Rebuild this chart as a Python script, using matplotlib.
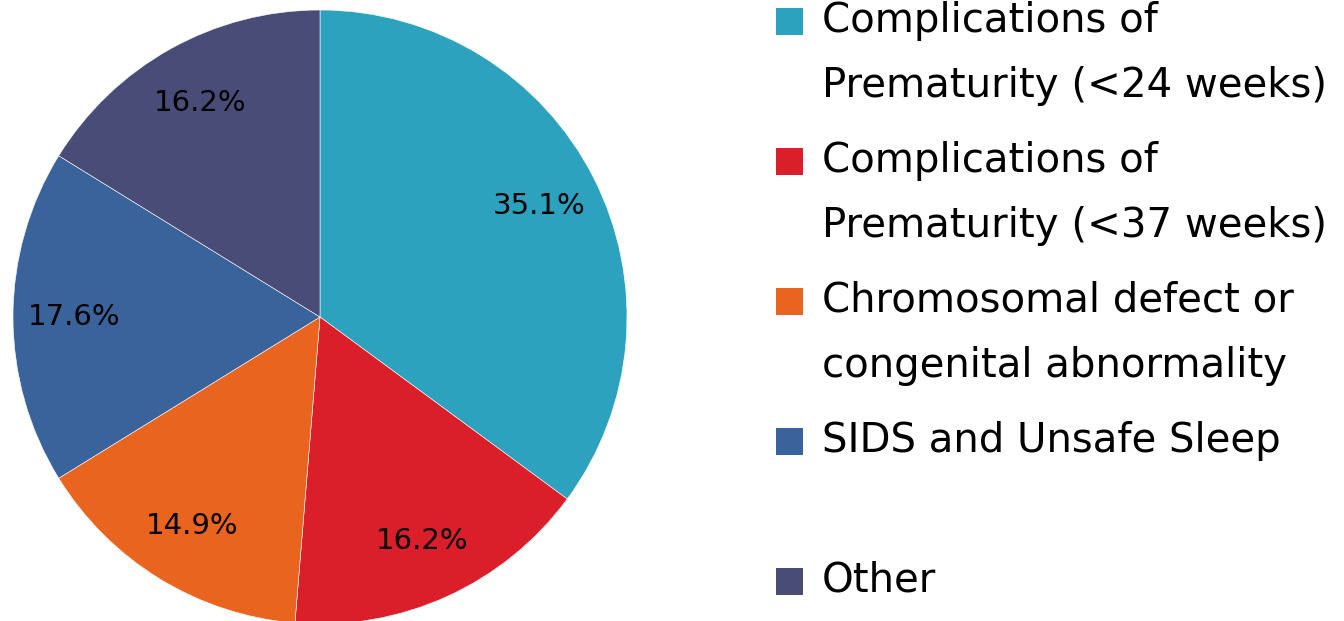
import matplotlib
matplotlib.use("Agg")
import matplotlib.pyplot as plt
from matplotlib.patches import Rectangle

categories = [
    "Complications of\nPrematurity (<24 weeks)",
    "Complications of\nPrematurity (<37 weeks)",
    "Chromosomal defect or\ncongenital abnormality",
    "SIDS and Unsafe Sleep",
    "Other",
]
values = [35.1, 16.2, 14.9, 17.6, 16.2]
colors = ["#2DA2BF", "#DA1F2B", "#E9641F", "#3A639C", "#494C77"]

W, H = 1344, 621
fig = plt.figure(figsize=(W / 100, H / 100), dpi=100)
plt.rcParams['font.family'] = ['DejaVu Sans']

cx, cy, R = 320, 317, 307
ax = fig.add_axes([(cx - R) / W, (H - cy - R) / H, 2 * R / W, 2 * R / H])
wedges, texts, autotexts = ax.pie(
    values, colors=colors, startangle=90, counterclock=False,
    autopct=lambda p: f"{p:.1f}%", pctdistance=0.80,
    wedgeprops=dict(edgecolor="white", linewidth=0.4),
    textprops=dict(fontsize=21, color="black"), radius=1.0)
ax.set_xlim(-1, 1)
ax.set_ylim(-1, 1)
ax.set_aspect("equal")
ax.axis("off")

# legend drawn manually
sq_x, sq_w, sq_h = 776, 27, 27
text_x = 822
first_y = 21
entry_step = 140
line_step = 65
for i, (lab, col) in enumerate(zip(categories, colors)):
    y0 = first_y + i * entry_step
    fig.patches.append(Rectangle((sq_x / W, (H - y0 - sq_h / 2) / H), sq_w / W, sq_h / H,
                                 transform=fig.transFigure, facecolor=col, edgecolor="none"))
    for j, line in enumerate(lab.split("\n")):
        fig.text(text_x / W, (H - (y0 + j * line_step)) / H, line, fontsize=29,
                 va="center", ha="left", color="black")

fig.savefig("out.png", dpi=100)
